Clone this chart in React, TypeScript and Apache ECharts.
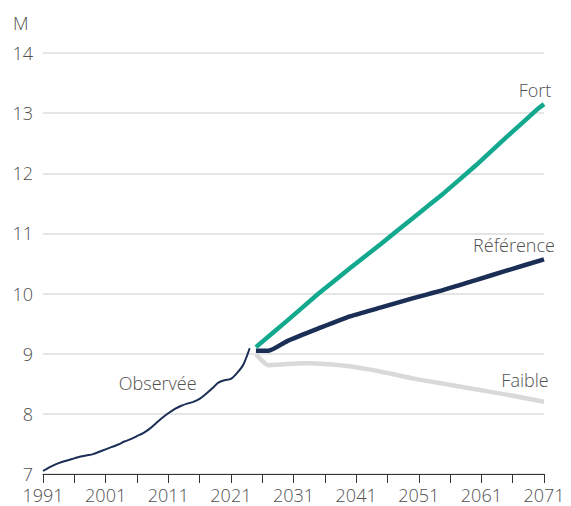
import React, { useEffect, useRef } from "react";
import * as echarts from "echarts";

const obsYears = [1991, 1992, 1993, 1994, 1995, 1996, 1997, 1998, 1999, 2000, 2001, 2002, 2003, 2004, 2005, 2006, 2007, 2008, 2009, 2010, 2011, 2012, 2013, 2014, 2015, 2016, 2017, 2018, 2019, 2020, 2021, 2022, 2023, 2024];
const obsValues = [7.05, 7.11, 7.16, 7.2, 7.23, 7.26, 7.29, 7.31, 7.33, 7.37, 7.41, 7.45, 7.49, 7.54, 7.58, 7.63, 7.68, 7.75, 7.84, 7.93, 8.01, 8.08, 8.13, 8.17, 8.2, 8.25, 8.33, 8.42, 8.52, 8.56, 8.58, 8.68, 8.82, 9.09];

const fortYears = [2025, 2030, 2035, 2040, 2045, 2050, 2055, 2060, 2065, 2070, 2071];
const fortValues = [9.11, 9.55, 10.0, 10.42, 10.83, 11.25, 11.67, 12.12, 12.6, 13.07, 13.15];

const refYears = [2025, 2026, 2027, 2030, 2035, 2040, 2045, 2050, 2055, 2060, 2065, 2071];
const refValues = [9.05, 9.05, 9.05, 9.21, 9.42, 9.62, 9.77, 9.92, 10.06, 10.22, 10.38, 10.57];

const faibleYears = [2025, 2026, 2027, 2030, 2033, 2036, 2040, 2045, 2050, 2055, 2060, 2065, 2071];
const faibleValues = [8.99, 8.88, 8.81, 8.83, 8.84, 8.83, 8.79, 8.7, 8.59, 8.5, 8.41, 8.32, 8.2];

const startYear = 1991;
const endYear = 2071;
const yTicks = [7, 8, 9, 10, 11, 12, 13, 14];

const TXT = "#505050";
const FONT = "'Open Sans', 'Noto Sans', sans-serif";
const FS = 18;
const FW: any = 300;

function pts(years: number[], values: number[]) {
  return years.map((y, i) => [y - startYear, values[i]]);
}

function markAt(years: number[], values: number[], idx: number, text: string, offset: number[]) {
  return {
    symbol: "circle",
    symbolSize: 0,
    silent: true,
    animation: false,
    data: [
      {
        coord: [years[idx] - startYear, values[idx]],
        label: {
          show: true,
          position: "top",
          distance: 5,
          offset,
          formatter: text,
          color: TXT,
          fontSize: FS,
          fontWeight: FW,
          fontFamily: FONT,
        },
      },
    ],
  };
}

export default function App() {
  const ref = useRef<HTMLDivElement>(null);
  useEffect(() => {
    document.body.style.margin = "0";
    const chart = echarts.init(ref.current!, null, { renderer: "svg" });
    chart.setOption({
      animation: false,
      backgroundColor: "#ffffff",
      title: {
        text: "M",
        left: 8,
        top: 9,
        textStyle: { color: TXT, fontSize: FS, fontWeight: FW, fontFamily: FONT },
      },
      grid: { left: 43, right: 27, top: 53, bottom: 32, containLabel: false },
      xAxis: {
        type: "value",
        min: 0,
        max: endYear - startYear,
        interval: 5,
        axisLine: { show: true, lineStyle: { color: "#333333", width: 1 } },
        axisTick: { show: true, length: 9, lineStyle: { color: "#333333" } },
        splitLine: { show: false },
        axisLabel: {
          color: TXT,
          fontSize: FS,
          fontWeight: FW,
          fontFamily: FONT,
          lineHeight: 14,
          margin: 14,
          formatter: (v: number) => (v % 10 === 0 ? String(v + startYear) : ""),
        },
      },
      yAxis: {
        type: "value",
        min: yTicks[0],
        max: yTicks[yTicks.length - 1],
        interval: 1,
        axisLine: { show: false },
        axisTick: { show: false },
        splitLine: { show: true, lineStyle: { color: "#dddddd", width: 1.5 } },
        axisLabel: { color: TXT, fontSize: FS, fontWeight: FW, fontFamily: FONT, lineHeight: 14, margin: 10 },
      },
      series: [
        {
          name: "Faible",
          type: "line",
          data: pts(faibleYears, faibleValues),
          showSymbol: false,
          symbol: "none",
          smooth: 0.2,
          lineStyle: { color: "#d9d9d9", width: 4.5 },
          markPoint: markAt(faibleYears, faibleValues, faibleYears.length - 1, "Faible", [-19, -8]),
          z: 2,
        },
        {
          name: "Référence",
          type: "line",
          data: pts(refYears, refValues),
          showSymbol: false,
          symbol: "none",
          smooth: 0.2,
          lineStyle: { color: "#1b2e55", width: 4.5 },
          markPoint: markAt(refYears, refValues, refYears.length - 1, "Référence", [-30, 0]),
          z: 3,
        },
        {
          name: "Fort",
          type: "line",
          data: pts(fortYears, fortValues),
          showSymbol: false,
          symbol: "none",
          smooth: 0.1,
          lineStyle: { color: "#13a98f", width: 4.5 },
          markPoint: markAt(fortYears, fortValues, fortYears.length - 1, "Fort", [-9, 0]),
          z: 4,
        },
        {
          name: "Observée",
          type: "line",
          data: pts(obsYears, obsValues),
          showSymbol: false,
          symbol: "none",
          smooth: 0.3,
          lineStyle: { color: "#1b2e55", width: 2 },
          markPoint: markAt(obsYears, obsValues, 18, "Observée", [2, -26]),
          z: 5,
        },
      ],
    });
    return () => chart.dispose();
  }, []);
  return <div ref={ref} style={{ width: 571, height: 506 }} />;
}
